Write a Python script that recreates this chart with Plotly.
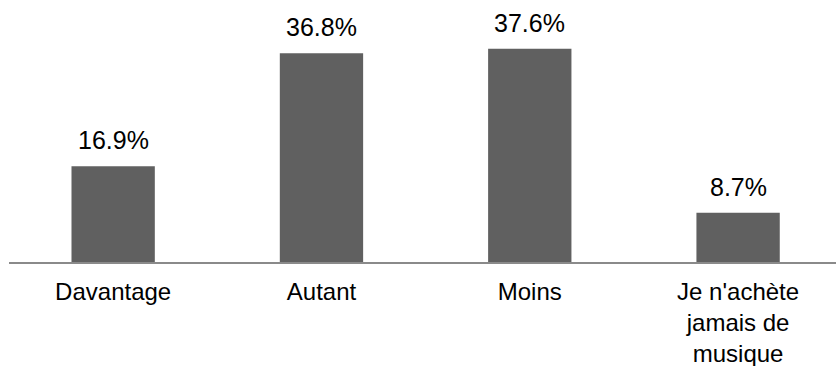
import plotly.graph_objects as go

categories = ["Davantage", "Autant", "Moins", "Je n'achète<br>jamais de<br>musique"]
shares = [16.9, 36.8, 37.6, 8.7]

BAR_COLOR = "#606060"
AXIS_COLOR = "#8a8a8a"
FONT = "Liberation Sans, Arial, sans-serif"

fig = go.Figure()
fig.add_trace(go.Bar(
    x=categories,
    y=shares,
    marker=dict(color=BAR_COLOR, line=dict(width=0)),
    hoverinfo="skip",
))

# value labels sit just above each bar
for cat, val in zip(categories, shares):
    fig.add_annotation(
        x=cat, y=val, text=f"{val:.1f}%",
        showarrow=False, yanchor="bottom", yshift=10,
        font=dict(family=FONT, size=25, color="#000000"),
    )

fig.update_layout(
    width=836, height=366,
    margin=dict(l=9, r=0, t=0, b=104),
    paper_bgcolor="white", plot_bgcolor="white",
    bargap=0.6,
    showlegend=False,
    font=dict(family=FONT, size=25, color="#000000"),
    xaxis=dict(
        range=[-0.5, 3.47],
        automargin=False,
        showline=True, linecolor=AXIS_COLOR, linewidth=2,
        ticks="", showgrid=False, zeroline=False,
        tickfont=dict(family=FONT, size=24, color="#000000"),
        ticklabelstandoff=7,
    ),
    yaxis=dict(
        range=[0, 46.2],
        automargin=False,
        visible=False, showgrid=False, zeroline=False,
    ),
)

fig.write_html("out.html")
